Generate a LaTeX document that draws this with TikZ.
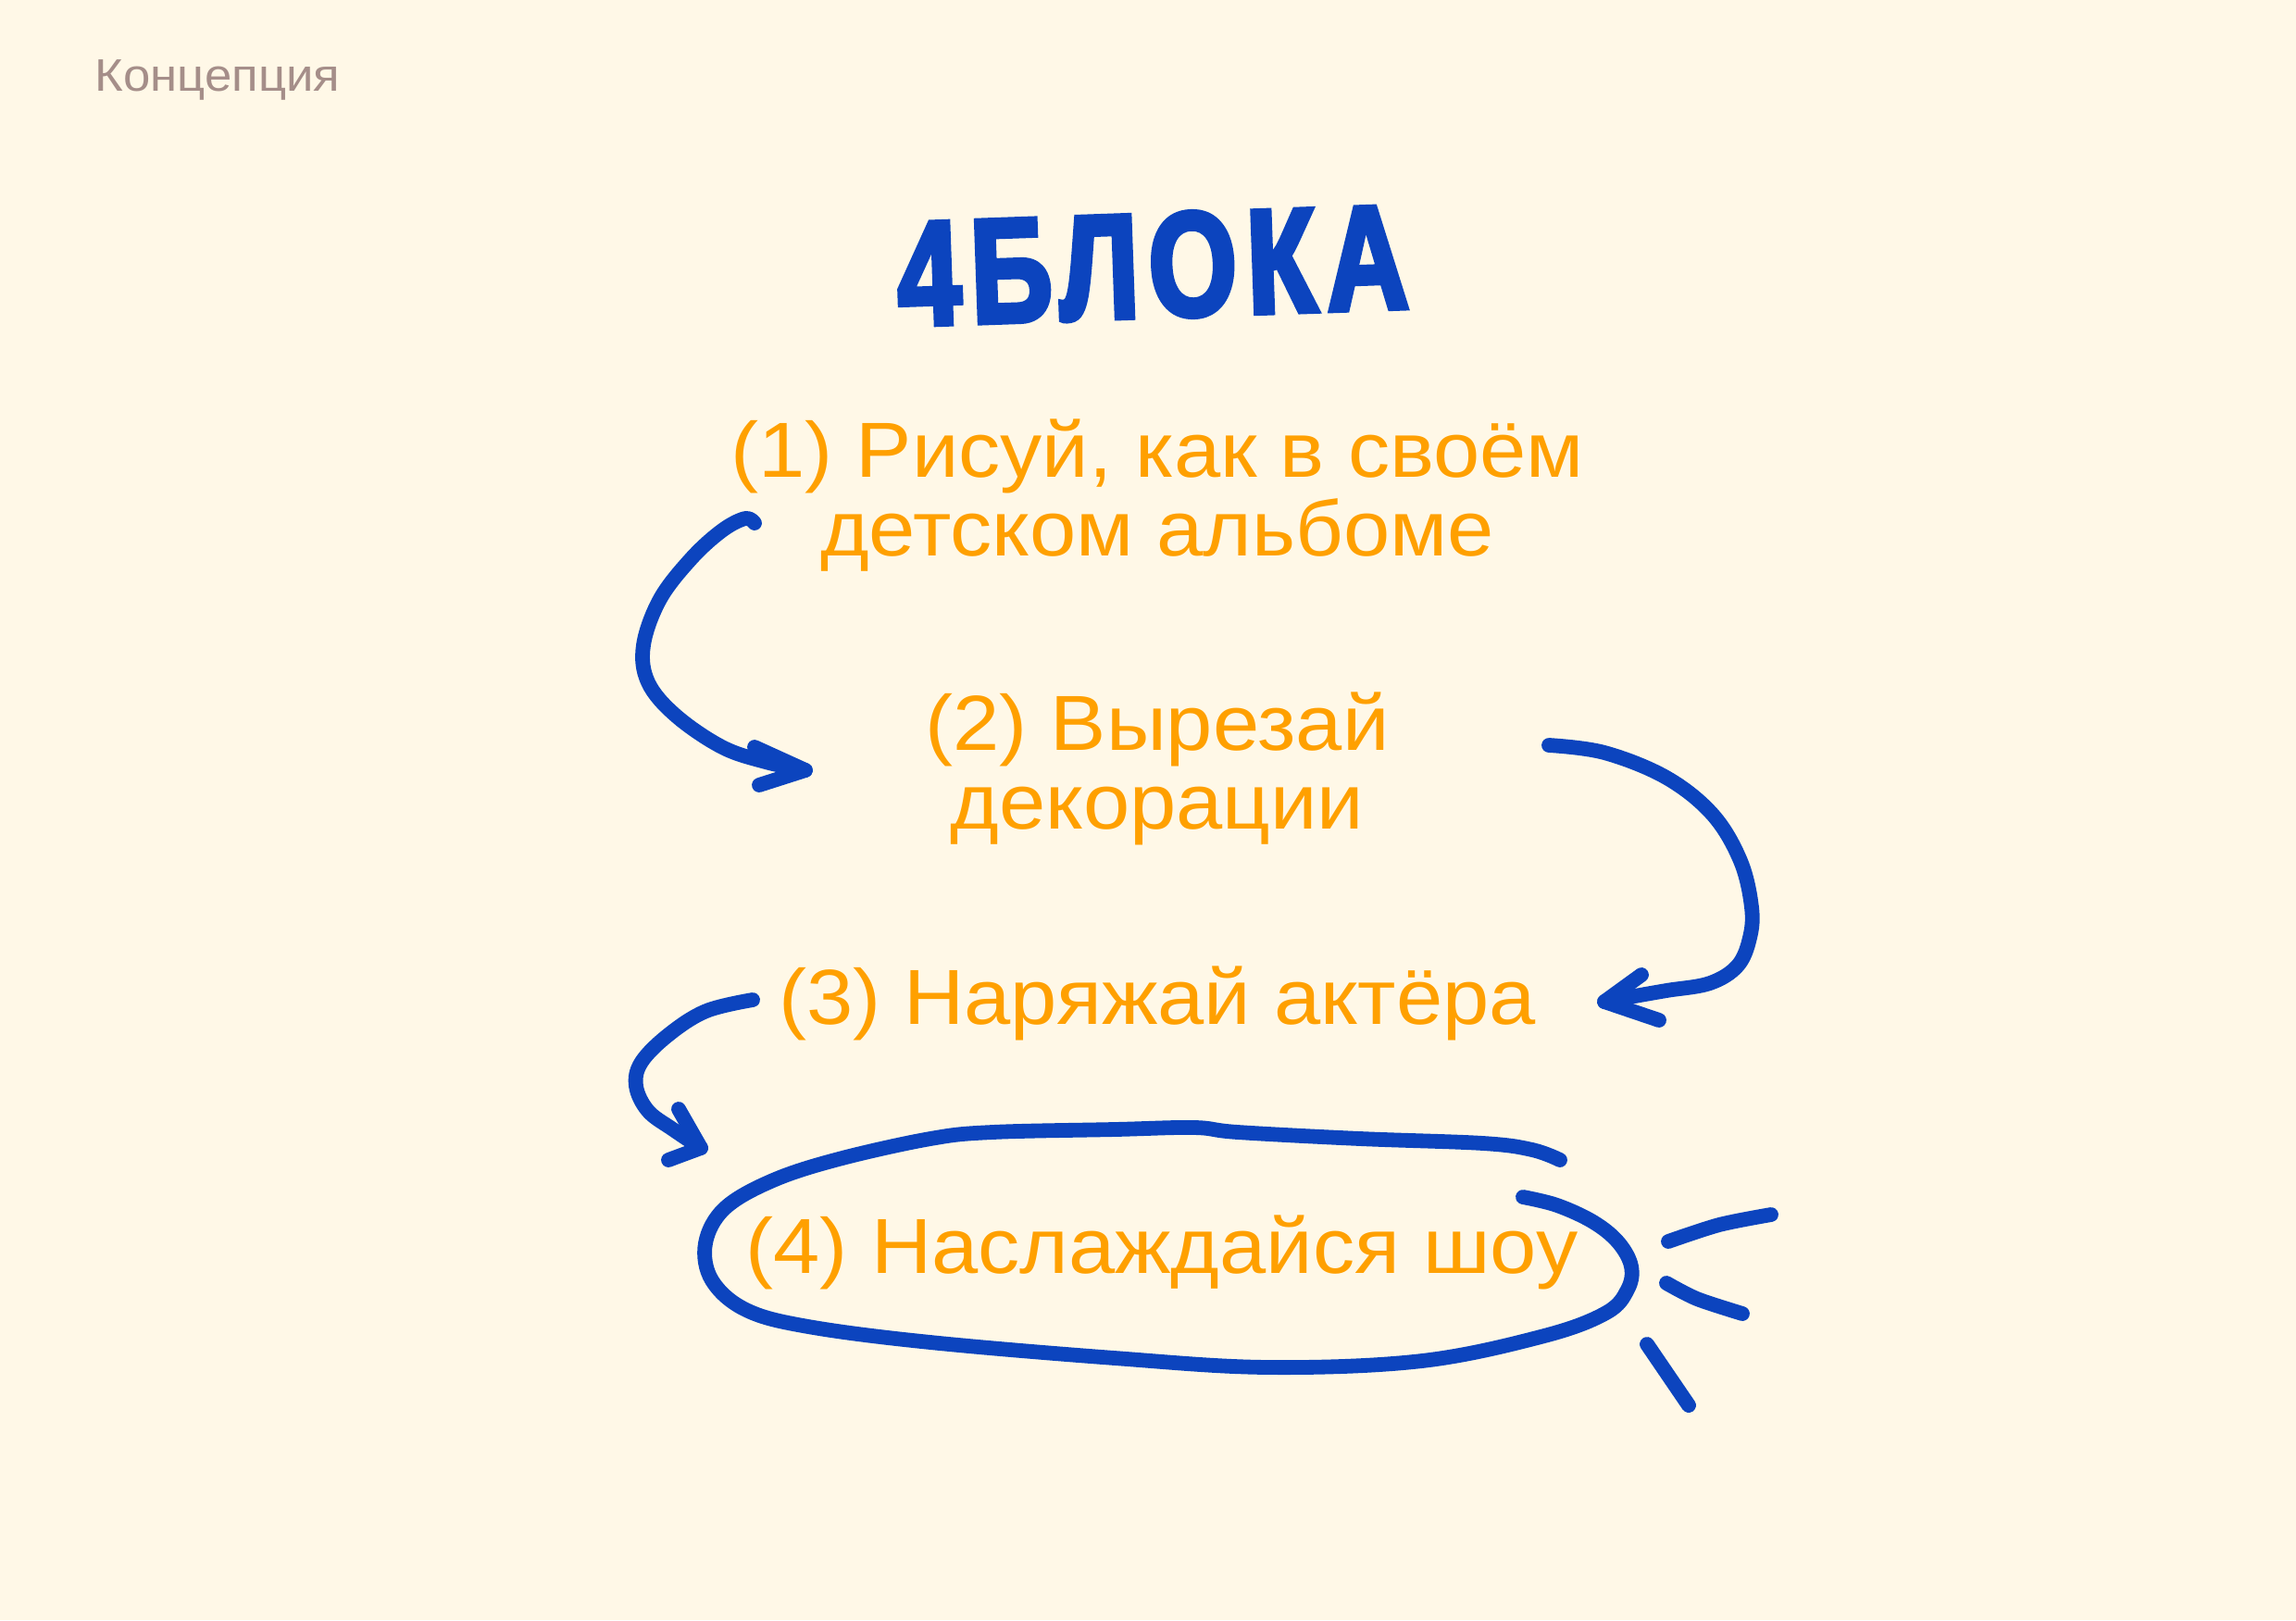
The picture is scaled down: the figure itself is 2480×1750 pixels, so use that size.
\documentclass[tikz,border=0pt]{standalone}
\usepackage{fontspec}
\setmainfont{Liberation Sans}[FakeStretch=1.07]
\newfontfamily\titlefont{Liberation Sans}[FakeStretch=0.76,FakeBold=3.5,LetterSpace=7]
\usepackage{tikz}

\definecolor{cream}{HTML}{FFF8E7}
\definecolor{inkblue}{HTML}{0C44BE}
\definecolor{marker}{HTML}{FFA000}
\definecolor{greybrown}{HTML}{A58E89}

\tikzset{
  stepnode/.style={text=marker, font=\fontsize{24pt}{23.9pt}\selectfont, align=center, anchor=base, inner sep=0pt},
  pen/.style={draw=inkblue, line width=4.5pt, line cap=round, line join=round},
}

\begin{document}
\begin{tikzpicture}[x=0.01cm, y=-0.01cm]
        \useasboundingbox (0,0) rectangle (2480,1750);
        \fill[cream] (0,0) rectangle (2480,1750);

        % headings
        \node[text=greybrown, font=\fontsize{14pt}{14pt}\selectfont, anchor=base west, inner sep=0pt](concept) at (102,98) {Концепция};
        \node[text=inkblue, font=\titlefont\bfseries\fontsize{45.6pt}{46pt}\selectfont, rotate=2, inner sep=0pt](title) at (1245,287) {4БЛОКА};

        % the four steps (base = last line)
        \node[stepnode](1) at (1250,600) {(1) Рисуй, как в своём\\детском альбоме};
        \node[stepnode](2) at (1250,895) {(2) Вырезай\\декорации};
        \node[stepnode](3) at (1250,1106) {(3) Наряжай актёра};
        \node[stepnode](4) at (1255,1375) {(4) Наслаждайся шоу};

        % ends of the hand drawn arrows
        \coordinate (1s) at (815,565);
        \coordinate (2t) at (870,832);
        \coordinate (2s) at (1673,805);
        \coordinate (3t) at (1733,1082);
        \coordinate (3s) at (813,1080);
        \coordinate (4t) at (757,1240);

        \draw[pen] plot[smooth, tension=0.6] coordinates {(1s) (805,560) (780,573) (747,603) (713,647) (695,697) (700,737) (730,773) (780,807) (827,823) (2t)};
        \draw[pen] (815,807) -- (2t) -- (820,848);

        \draw[pen] plot[smooth, tension=0.6] coordinates {(2s) (1733,813) (1800,840) (1850,880) (1880,930) (1892,980) (1890,1013) (1877,1043) (1847,1062) (1800,1070) (1760,1077) (3t)};
        \draw[pen] (1773,1053) -- (3t) -- (1792,1102);

        \draw[pen] plot[smooth, tension=0.6] coordinates {(3s) (763,1092) (723,1117) (693,1147) (687,1173) (700,1200) (727,1220) (4t)};
        \draw[pen] (733,1198) -- (4t) -- (722,1253);

        % loop round step 4 and the little rays
        \draw[pen] plot[smooth, tension=0.6] coordinates {(1685,1253) (1655,1242) (1602,1235) (1469,1230) (1337,1223) (1290,1218) (1204,1220) (1072,1223) (1005,1230) (906,1252) (835,1275) (783,1305) (762,1343) (769,1383) (806,1415) (873,1433) (1005,1450) (1204,1467) (1370,1477) (1536,1470) (1668,1443) (1735,1418) (1758,1393) (1762,1368) (1748,1342) (1721,1320) (1682,1302) (1645,1293)};
        \draw[pen] plot[smooth] coordinates {(1802,1341) (1857,1323) (1913,1312)};
        \draw[pen] plot[smooth] coordinates {(1800,1386) (1833,1403) (1882,1419)};
        \draw[pen] (1779,1452) -- (1824,1518);
    \end{tikzpicture}
\end{document}
